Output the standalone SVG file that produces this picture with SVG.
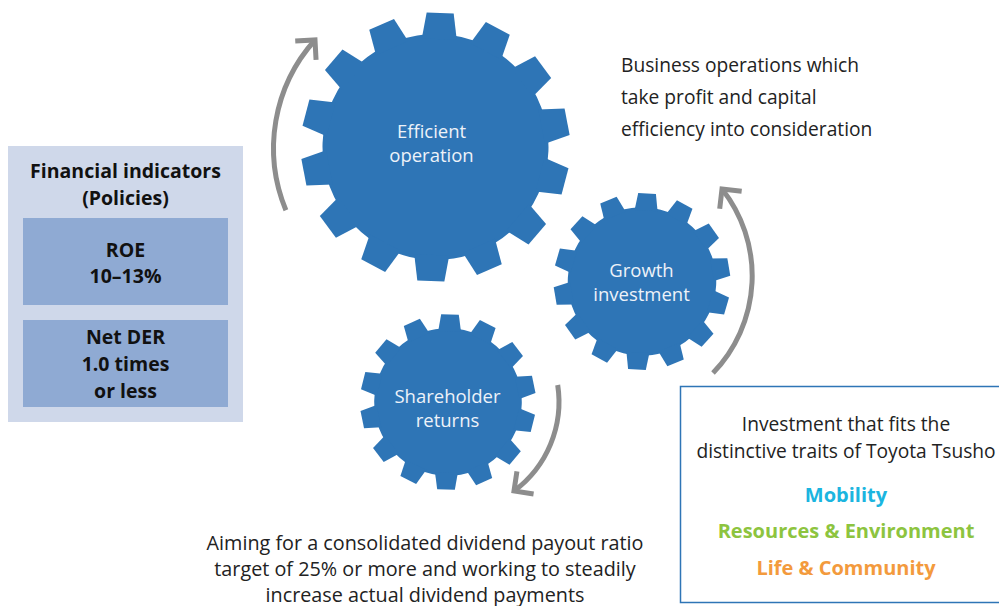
<svg xmlns="http://www.w3.org/2000/svg" xmlns:xlink="http://www.w3.org/1999/xlink" width="999" height="606" viewBox="0 0 999 606">
<style>
  .gear { fill: #2E75B6; }
  .gtxt { font-family: "Open Sans", "Noto Sans", "Liberation Sans", sans-serif; font-size: 18.5px; fill: #EDF2F9; text-anchor: middle; }
  .btxt { font-family: "Open Sans", "Noto Sans", "Liberation Sans", sans-serif; font-size: 19.2px; fill: #222222; }
  .ptxt { font-family: "Open Sans", "Noto Sans", "Liberation Sans", sans-serif; font-size: 19.5px; font-weight: 700; fill: #111111; text-anchor: middle; }
  .ctr { text-anchor: middle; }
  .bold { font-weight: 700; font-size: 20px; }
  .div { font-size: 19.8px; }
  .arrow { fill: none; stroke: #8D8D8D; stroke-width: 5; marker-end: url(#ah); }
</style>
<defs>
  <marker id="ah" markerUnits="userSpaceOnUse" orient="auto" markerWidth="1" markerHeight="1" refX="0" refY="0" overflow="visible">
    <path d="M-14,-14 L0,0 L-14,14" fill="none" stroke="#8D8D8D" stroke-width="5"/>
  </marker>
  <path id="tooth" d="M-17.5,-108 L-13.5,-134 L13.5,-134 L17.5,-108 Z"/>
  <g id="gearShape">
    <circle r="113"/>
    <use xlink:href="#tooth"/>
    <use xlink:href="#tooth" transform="rotate(25.714)"/>
    <use xlink:href="#tooth" transform="rotate(51.429)"/>
    <use xlink:href="#tooth" transform="rotate(77.143)"/>
    <use xlink:href="#tooth" transform="rotate(102.857)"/>
    <use xlink:href="#tooth" transform="rotate(128.571)"/>
    <use xlink:href="#tooth" transform="rotate(154.286)"/>
    <use xlink:href="#tooth" transform="rotate(180)"/>
    <use xlink:href="#tooth" transform="rotate(205.714)"/>
    <use xlink:href="#tooth" transform="rotate(231.429)"/>
    <use xlink:href="#tooth" transform="rotate(257.143)"/>
    <use xlink:href="#tooth" transform="rotate(282.857)"/>
    <use xlink:href="#tooth" transform="rotate(308.571)"/>
    <use xlink:href="#tooth" transform="rotate(334.286)"/>
  </g>
</defs>
<rect width="999" height="606" fill="#FFFFFF"/>

<g id="financial-indicators">
  <rect x="8" y="146" width="235" height="276" fill="#CFD8EA"/>
  <text class="ptxt" x="125.5" y="178">Financial indicators</text>
  <text class="ptxt" x="125.5" y="205">(Policies)</text>
</g>
<g id="roe">
  <rect x="23" y="218" width="205" height="87" fill="#8FAAD3"/>
  <text class="ptxt" x="125.5" y="257">ROE</text>
  <text class="ptxt" x="125.5" y="283">10–13%</text>
</g>
<g id="net-der">
  <rect x="23" y="320" width="205" height="87" fill="#8FAAD3"/>
  <text class="ptxt" x="125.5" y="344">Net DER</text>
  <text class="ptxt" x="125.5" y="371">1.0 times</text>
  <text class="ptxt" x="125.5" y="398">or less</text>
</g>

<g id="efficient-operation">
  <use xlink:href="#gearShape" class="gear" transform="translate(435.5,147) rotate(2)"/>
  <text class="gtxt" x="431.5" y="138">Efficient</text>
  <text class="gtxt" x="431.5" y="162">operation</text>
</g>
<g id="growth-investment">
  <use xlink:href="#gearShape" class="gear" transform="translate(642,281.5) scale(0.657) rotate(3.3)"/>
  <text class="gtxt" x="641.5" y="277">Growth</text>
  <text class="gtxt" x="641.5" y="301">investment</text>
</g>
<g id="shareholder-returns">
  <use xlink:href="#gearShape" class="gear" transform="translate(448,402) scale(0.653) rotate(1.3)"/>
  <text class="gtxt" x="447.5" y="403">Shareholder</text>
  <text class="gtxt" x="447.5" y="427">returns</text>
</g>

<g id="connectors">
  <path class="arrow" d="M285.9,210.3 A162,162 0 0 1 315,40"/>
  <path class="arrow" d="M713,373 A140,140 0 0 0 722,189"/>
  <path class="arrow" d="M557.7,385 A111,111 0 0 1 514,491"/>
</g>

<g id="business-operations-note">
  <text class="btxt" x="621" y="72">Business operations which</text>
  <text class="btxt" x="621" y="104">take profit and capital</text>
  <text class="btxt" x="621" y="136">efficiency into consideration</text>
</g>

<g id="dividend-note">
  <text class="btxt ctr div" x="425" y="550">Aiming for a consolidated dividend payout ratio</text>
  <text class="btxt ctr div" x="425" y="576">target of 25% or more and working to steadily</text>
  <text class="btxt ctr div" x="425" y="602">increase actual dividend payments</text>
</g>

<g id="investment-box">
  <rect x="680.5" y="386.5" width="330" height="216" fill="#FFFFFF" stroke="#2E75B6" stroke-width="1.5"/>
  <text class="btxt ctr" x="846" y="431">Investment that fits the</text>
  <text class="btxt ctr" x="846" y="458">distinctive traits of Toyota Tsusho</text>
  <text class="btxt ctr bold" x="846" y="502" style="fill:#1BB5E0">Mobility</text>
  <text class="btxt ctr bold" x="846" y="538" style="fill:#8DC43F">Resources &amp; Environment</text>
  <text class="btxt ctr bold" x="846" y="575" style="fill:#F39A3D">Life &amp; Community</text>
</g>
</svg>
